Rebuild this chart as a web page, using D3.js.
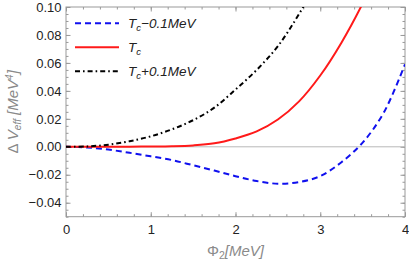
<!DOCTYPE html>
<html>
<head>
<meta charset="utf-8">
<script src="https://cdn.jsdelivr.net/npm/d3@7/dist/d3.min.js"></script>
<style>
  body { margin: 0; background: #fff; }
  svg { display: block; font-family: "Liberation Sans", Arial, sans-serif; }
  .tick text { font-size: 13px; fill: #222; }
  .axis path { display: none; }
  .axis line { stroke: #999; }
</style>
</head>
<body>
<div id="chart"></div>
<script>
// chart values
const phi = [0, 0.25, 0.5, 0.75, 1, 1.25, 1.5, 1.75, 2, 2.25, 2.5, 2.75, 3, 3.25, 3.5, 3.75, 4];
const vBelow = [0, -0.0005, -0.002, -0.0043, -0.0068, -0.0095, -0.0132, -0.017, -0.021, -0.0245, -0.0264, -0.0252, -0.021, -0.011, 0.003, 0.0245, 0.059];
const vCrit = [0, 0, 0, 0.0001, 0.0002, 0.0004, 0.001, 0.0025, 0.006, 0.011, 0.0195, 0.0325, 0.051, 0.0745, 0.1025, 0.135, 0.17];
const vAbove = [0, 0.0003, 0.0015, 0.004, 0.0075, 0.0125, 0.019, 0.028, 0.041, 0.055, 0.072, 0.095, 0.122, 0.155, 0.19, 0.23, 0.27];

const xTicks = [0, 1, 2, 3, 4];
const yTicks = [-0.04, -0.02, 0, 0.02, 0.04, 0.06, 0.08, 0.10];
const legendNames = ['\u22120.1MeV', '', '+0.1MeV'];

const width = 409, height = 261;
const margin = {top: 7, right: 4, bottom: 44.3, left: 66};
const w = width - margin.left - margin.right;
const h = height - margin.top - margin.bottom;

const svg = d3.select('#chart').append('svg')
    .attr('width', width)
    .attr('height', height);

const g = svg.append('g')
    .attr('transform', 'translate(' + margin.left + ',' + margin.top + ')');

const x = d3.scaleLinear().domain([0, 4]).range([0, w]);
const y = d3.scaleLinear().domain([-0.05, 0.10]).range([h, 0]);

const minorX = d3.range(0, 4.0001, 0.2);
const minorY = d3.range(-0.05, 0.10001, 0.005);

// minor ticks on all four sides
function minor(axis, vals) {
    return axis.tickValues(vals).tickSizeInner(-2.5).tickSizeOuter(0).tickFormat('');
}
g.append('g').attr('class', 'axis').attr('transform', 'translate(0,' + h + ')').call(minor(d3.axisBottom(x), minorX));
g.append('g').attr('class', 'axis').call(minor(d3.axisTop(x), minorX));
g.append('g').attr('class', 'axis').call(minor(d3.axisLeft(y), minorY));
g.append('g').attr('class', 'axis').attr('transform', 'translate(' + w + ',0)').call(minor(d3.axisRight(y), minorY));

// major ticks
g.append('g').attr('class', 'axis').attr('transform', 'translate(0,' + h + ')')
    .call(d3.axisBottom(x).tickValues(xTicks).tickSizeInner(-4.5).tickSizeOuter(0).tickPadding(8).tickFormat(d3.format('d')));
g.append('g').attr('class', 'axis')
    .call(d3.axisTop(x).tickValues(xTicks).tickSizeInner(-4.5).tickSizeOuter(0).tickFormat(''));
g.append('g').attr('class', 'axis')
    .call(d3.axisLeft(y).tickValues(yTicks).tickSizeInner(-4.5).tickSizeOuter(0).tickPadding(4.5).tickFormat(d3.format('.2f')));
g.append('g').attr('class', 'axis').attr('transform', 'translate(' + w + ',0)')
    .call(d3.axisRight(y).tickValues(yTicks).tickSizeInner(-4.5).tickSizeOuter(0).tickFormat(''));

// frame
g.append('rect')
    .attr('width', w).attr('height', h)
    .attr('fill', 'none').attr('stroke', '#999').attr('stroke-width', 1);

// zero line
g.append('line')
    .attr('x1', 0).attr('x2', w)
    .attr('y1', y(0)).attr('y2', y(0))
    .attr('stroke', '#b8b8b8').attr('stroke-width', 1);

g.append('clipPath').attr('id', 'clip')
    .append('rect').attr('width', w).attr('height', h);

const line = d3.line()
    .x(function (d, i) { return x(phi[i]); })
    .y(function (d) { return y(d); })
    .curve(d3.curveCatmullRom.alpha(0.5));

const series = [
    {vals: vBelow, color: '#1010ee', dash: '6,4'},
    {vals: vCrit, color: '#ff1a1a', dash: null},
    {vals: vAbove, color: '#000', dash: '5,3,1.6,3'}
];

const plot = g.append('g').attr('clip-path', 'url(#clip)');
series.forEach(function (s) {
    plot.append('path')
        .attr('d', line(s.vals))
        .attr('fill', 'none')
        .attr('stroke', s.color)
        .attr('stroke-width', 2)
        .attr('stroke-dasharray', s.dash);
});

// legend
const leg = g.append('g').attr('transform', 'translate(9,16.3)');
series.forEach(function (s, i) {
    const row = leg.append('g').attr('transform', 'translate(0,' + (i * 24) + ')');
    row.append('line')
        .attr('x1', 0).attr('x2', 44)
        .attr('stroke', s.color).attr('stroke-width', 2)
        .attr('stroke-dasharray', s.dash);
    const t = row.append('text')
        .attr('x', 53).attr('y', 4.5)
        .style('font-size', '13.5px').style('font-style', 'italic').attr('fill', '#222');
    t.append('tspan').text('T');
    t.append('tspan').attr('dy', 3).style('font-size', '9.5px').text('c');
    t.append('tspan').attr('dy', -3).text(legendNames[i]);
});

// axis titles
const xt = svg.append('text')
    .attr('x', margin.left + w / 2).attr('y', 256)
    .attr('text-anchor', 'middle')
    .style('font-size', '15px').attr('fill', '#8a8a8a');
xt.append('tspan').text('\u03A6');
xt.append('tspan').attr('dy', 3).style('font-size', '10.5px').text('2');
xt.append('tspan').attr('dy', -3).style('font-style', 'italic').text('[MeV]');

const yt = svg.append('text')
    .attr('transform', 'translate(18,' + (margin.top + h / 2) + ') rotate(-90)')
    .attr('text-anchor', 'middle')
    .style('font-size', '15px').attr('fill', '#8a8a8a');
yt.append('tspan').text('\u0394 ');
yt.append('tspan').style('font-style', 'italic').text('V');
yt.append('tspan').attr('dy', 3).style('font-size', '10px').style('font-style', 'italic').text('eff');
yt.append('tspan').attr('dy', -3).style('font-style', 'italic').text(' [MeV');
yt.append('tspan').attr('dy', -5).style('font-size', '10px').style('font-style', 'italic').text('4');
yt.append('tspan').attr('dy', 5).style('font-style', 'italic').text(']');
</script>
</body>
</html>
